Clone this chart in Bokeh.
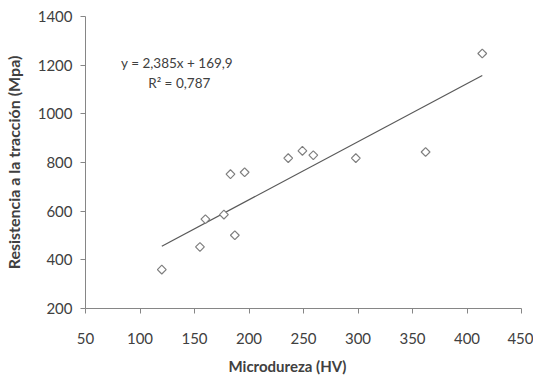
import math
from bokeh.plotting import figure
from bokeh.models import Range1d, FixedTicker, ColumnDataSource, Label, Title
from bokeh.embed import file_html
from bokeh.resources import INLINE

# Data
microdureza = [120, 155, 160, 177, 187, 183, 196, 236, 249, 259, 298, 362, 414]
resistencia = [360, 453, 567, 586, 501, 752, 760, 818, 848, 830, 818, 843, 1248]
slope = 2.385
intercept = 169.9
eq_text = "y = 2,385x + 169,9"
r2_text = "R² = 0,787"
x_title = "Microdureza (HV)"
y_title = "Resistencia a la tracción (Mpa)"
x_ticks = [50, 100, 150, 200, 250, 300, 350, 400, 450]
y_ticks = [200, 400, 600, 800, 1000, 1200, 1400]

FONT = "Lato"
TXT = "#404040"
AX = "#868686"

p = figure(width=533, height=383, output_backend="svg", toolbar_location=None,
           x_range=Range1d(50, 450), y_range=Range1d(200, 1400),
           min_border_left=84, min_border_right=12, min_border_top=16, min_border_bottom=10)
p.outline_line_color = None
p.grid.visible = False
p.background_fill_color = "white"
p.border_fill_color = "white"

# trend line
xmin, xmax = min(microdureza), max(microdureza)
p.line([xmin, xmax], [slope * xmin + intercept, slope * xmax + intercept],
       line_color="#595959", line_width=1.2)

src = ColumnDataSource(dict(x=microdureza, y=resistencia))
p.scatter("x", "y", source=src, marker="square", size=6.2, angle=math.pi / 4,
          fill_color="white", line_color="#7f7f7f", line_width=1.2)

for ax, ticks in ((p.xaxis[0], x_ticks), (p.yaxis[0], y_ticks)):
    ax.ticker = FixedTicker(ticks=ticks)
    ax.axis_line_color = AX
    ax.major_tick_line_color = AX
    ax.major_tick_in = 0
    ax.major_tick_out = 5
    ax.minor_tick_line_color = None
    ax.major_label_text_font = FONT
    ax.major_label_text_font_size = "15px"
    ax.major_label_text_color = TXT

p.xaxis.major_label_standoff = 19
p.yaxis.major_label_standoff = 8

p.yaxis.axis_label = y_title
p.yaxis.axis_label_text_font = FONT
p.yaxis.axis_label_text_font_size = "16px"
p.yaxis.axis_label_text_font_style = "bold"
p.yaxis.axis_label_text_color = TXT
p.yaxis.axis_label_standoff = 12

p.add_layout(Title(text=x_title, align="left", offset=143, standoff=17,
                   text_font=FONT, text_font_size="15px", text_font_style="bold",
                   text_color=TXT), "below")

# trend-line equation
p.add_layout(Label(x=134, y=1207, text=eq_text, text_font=FONT, text_font_size="13.5px",
                   text_color=TXT, text_align="center", text_baseline="middle"))
p.add_layout(Label(x=136, y=1125, text=r2_text, text_font=FONT, text_font_size="13.5px",
                   text_color=TXT, text_align="center", text_baseline="middle"))

open("out.html", "w").write(file_html(p, INLINE))
